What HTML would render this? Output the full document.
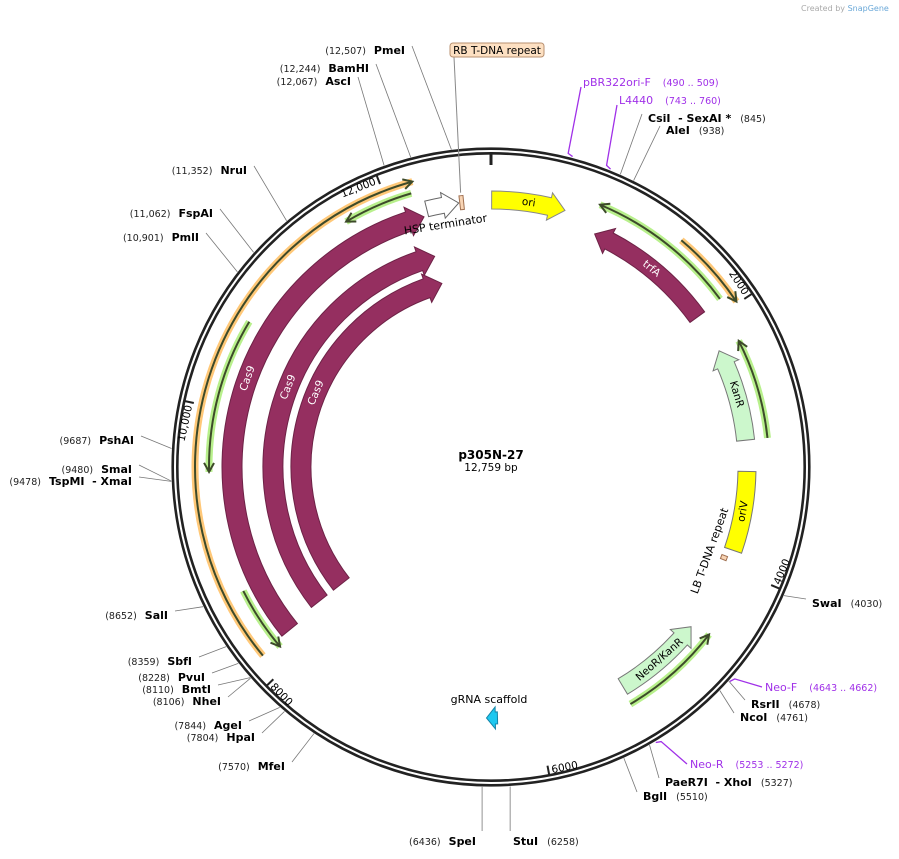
<!DOCTYPE html>
<html><head><meta charset="utf-8"><style>
html,body{margin:0;padding:0;background:#fff;}
svg{display:block;font-family:"DejaVu Sans","Liberation Sans",sans-serif;}
</style></head><body>
<svg id="map" width="899" height="859" viewBox="0 0 899 859" xmlns="http://www.w3.org/2000/svg">
<text x="801" y="11" font-size="8" fill="#aaa">Created by <tspan fill="#6aa8d8">SnapGene</tspan></text>
<g id="backbone"></g>
<g id="feats"></g>
<g id="enz"></g>
<text x="491" y="459" text-anchor="middle" font-size="12" font-weight="bold">p305N-27</text>
<text x="491" y="471" text-anchor="middle" font-size="10.5">12,759 bp</text>
</svg>
<script>
const TOTAL = 12759;
const CX = 491, CY = 467, R = 316;
// thick features
const featNames = ["ori","trfA","KanR","oriV","NeoR/KanR","gRNA scaffold","Cas9","Cas9","Cas9","HSP terminator","RB T-DNA repeat","LB T-DNA repeat"];
const featStart = [5, 850, 2233, 3225, 4558, 6327, 8188, 8222, 8222, 12263, 12520, 3925];
const featEnd   = [570, 1914, 2977, 3863, 5281, 6416, 12228, 12228, 12228, 12512, 12550, 3960];
const featDir   = [1, -1, -1, 0, -1, 1, 1, 1, 1, 1, 0, 0];
// thin primer-like features
const thinStart = [800, 1418, 2233, 4520, 11676, 9534, 8137, 8166];
const thinEnd   = [1904, 1985, 2977, 5300, 12183, 10668, 8627, 12213];
const thinDir   = [-1, 1, -1, -1, -1, -1, -1, 1];
// tick labels
const tickPos = [2000, 4000, 6000, 8000, 10000, 12000];
const tickLabels = ["2000","4000","6000","8000","10,000","12,000"];
// enzymes
const enzNames = ["PmeI","BamHI","AscI","NruI","FspAI","PmlI","PshAI","SmaI","TspMI  - XmaI","SalI","SbfI","PvuI","BmtI","NheI","AgeI","HpaI","MfeI","SpeI","StuI","BglI","PaeR7I  - XhoI","NcoI","RsrII","SwaI","CsiI  - SexAI *","AleI"];
const enzPos = [12507,12244,12067,11352,11062,10901,9687,9480,9478,8652,8359,8228,8110,8106,7844,7804,7570,6436,6258,5510,5327,4761,4678,4030,845,938];
const enzLabels = ["(12,507)","(12,244)","(12,067)","(11,352)","(11,062)","(10,901)","(9687)","(9480)","(9478)","(8652)","(8359)","(8228)","(8110)","(8106)","(7844)","(7804)","(7570)","(6436)","(6258)","(5510)","(5327)","(4761)","(4678)","(4030)","(845)","(938)"];
// primers
const primerNames = ["pBR322ori-F","L4440","Neo-F","Neo-R"];
const primerStart = [490, 743, 4643, 5253];
const primerLabels = ["(490 .. 509)","(743 .. 760)","(4643 .. 4662)","(5253 .. 5272)"];

// layout (not data)
const featR = [267,255,256,256,256,251,259,218,190,266,266,250];
const featW = [18,18,18,18,18,12,20,20,20,16,14,6];
const featFill = ["#ffff00","#952f60","#ccf7cc","#ffff00","#ccf7cc","#1ec8f0","#952f60","#952f60","#952f60","#ffffff","#f8d4b4","#f8d4b4"];
const featStroke = ["#888","#6d2246","#777","#777","#777","#1585a8","#6d2246","#6d2246","#6d2246","#666","#a07050","#a07050"];
const featText = ["#000","#fff","#000","#000","#000","#000","#fff","#fff","#fff","#000","#000","#000"];
const thinR = [284,296,278,275,285,282,277,296];
const thinHalo = ["#b8f08c","#ffc878","#b8f08c","#b8f08c","#b8f08c","#b8f08c","#b8f08c","#ffc878"];
const enzAnchor = [[405,50,-1],[369,68,-1],[351,81,-1],[247,170,-1],[213,213,-1],[199,237,-1],[134,440,-1],[132,469,-1],[132,481,-1],[168,615,-1],[192,661,-1],[205,677,-1],[211,689,-1],[221,701,-1],[242,725,-1],[255,737,-1],[285,766,-1],[476,841,-1],[513,841,1],[643,796,1],[665,782,1],[740,717,1],[751,704,1],[812,603,1],[648,118,1],[666,130,1]];
const primerAnchor = [[583,82],[619,100],[765,687],[690,764]];

const NS = "http://www.w3.org/2000/svg";
function ang(bp){ return bp / TOTAL * 360; }
function pt(a, r){ const t = a * Math.PI / 180; return [CX + r * Math.sin(t), CY - r * Math.cos(t)]; }
function arcD(r, a0, a1){
  const p0 = pt(a0, r), p1 = pt(a1, r);
  const large = Math.abs(a1 - a0) > 180 ? 1 : 0, sweep = a1 > a0 ? 1 : 0;
  return `M${p0[0].toFixed(2)},${p0[1].toFixed(2)} A${r},${r} 0 ${large} ${sweep} ${p1[0].toFixed(2)},${p1[1].toFixed(2)}`;
}
function arcTo(r, a0, a1){
  const p1 = pt(a1, r);
  const large = Math.abs(a1 - a0) > 180 ? 1 : 0, sweep = a1 > a0 ? 1 : 0;
  return ` A${r},${r} 0 ${large} ${sweep} ${p1[0].toFixed(2)},${p1[1].toFixed(2)}`;
}
function mk(tag, attrs, parent){ const e = document.createElementNS(NS, tag); for (const k in attrs) e.setAttribute(k, attrs[k]); parent.appendChild(e); return e; }
function L(p){ return `L${p[0].toFixed(2)},${p[1].toFixed(2)}`; }

const bb = document.getElementById('backbone');
let c1 = mk('circle', {cx:CX, cy:CY, r:R+2.3, fill:'none', stroke:'#222', 'stroke-width':2.6}, bb);


let c2 = mk('circle', {cx:CX, cy:CY, r:R-2.3, fill:'none', stroke:'#222', 'stroke-width':2.6}, bb);


let t0 = mk('line', {x1:CX, y1:CY-R+3, x2:CX, y2:CY-R+14, stroke:'#222', 'stroke-width':3}, bb);



tickPos.forEach((bp, i) => {
  const a = ang(bp);
  const p0 = pt(a, R - 3), p1 = pt(a, R - 12);
  const tk = mk('line', {x1:p0[0], y1:p0[1], x2:p1[0], y2:p1[1], stroke:'#222', 'stroke-width':2}, bb);
  
  
  const flip = a > 90 && a < 270;
  const rot = flip ? a - 180 : a;
  const pp = pt(a - 0.6, R - 11);
  const tx = mk('text', {x:pp[0], y:pp[1], 'font-size':10.5, 'text-anchor': flip ? 'start' : 'end', 'dominant-baseline': flip ? 'hanging' : 'auto', transform:`rotate(${rot} ${pp[0]} ${pp[1]})`}, bb);
  tx.textContent = tickLabels[i];
  
  
});

const fg = document.getElementById('feats');
// thin features
thinStart.forEach((s, i) => {
  const a0 = ang(s), a1 = ang(thinEnd[i]), r = thinR[i];
  const g = mk('g', {}, fg);
  
  
  mk('path', {d:arcD(r, a0, a1), fill:'none', stroke:thinHalo[i], 'stroke-width':7}, g);
  mk('path', {d:arcD(r, a0, a1), fill:'none', stroke:'#3d4a2a', 'stroke-width':2}, g);
  const tipA = thinDir[i] > 0 ? a1 : a0;
  const back = thinDir[i] > 0 ? -1 : 1;
  const da = back * 9 / r * 180 / Math.PI;
  const tip = pt(tipA, r), h1 = pt(tipA + da, r + 5), h2 = pt(tipA + da, r - 5);
  mk('path', {d:`M${h1[0]},${h1[1]} L${tip[0]},${tip[1]} L${h2[0]},${h2[1]}`, fill:'none', stroke:'#3d4a2a', 'stroke-width':2}, g);
});
// thick features
featNames.forEach((n, i) => {
  const a0 = ang(featStart[i]), a1 = ang(featEnd[i]), r = featR[i], w = featW[i] / 2;
  let d;
  if (featDir[i] === 0) {
    d = arcD(r + w, a0, a1) + L(pt(a1, r - w)) + arcTo(r - w, a1, a0) + 'Z';
  } else {
    const hl = Math.min(16, (a1 - a0) * Math.PI / 180 * r * 0.8) / r * 180 / Math.PI;
    const hw = w + 5;
    if (featDir[i] > 0) {
      const ab = a1 - hl;
      d = arcD(r + w, a0, ab) + L(pt(ab, r + hw)) + L(pt(a1, r)) + L(pt(ab, r - hw)) + L(pt(ab, r - w)) + arcTo(r - w, ab, a0) + 'Z';
    } else {
      const ab = a0 + hl;
      d = arcD(r + w, a1, ab) + L(pt(ab, r + hw)) + L(pt(a0, r)) + L(pt(ab, r - hw)) + L(pt(ab, r - w)) + arcTo(r - w, ab, a1) + 'Z';
    }
  }
  const p = mk('path', {d:d, fill:featFill[i], stroke:featStroke[i], 'stroke-width':1}, fg);
  
  
  if (i <= 8 && i !== 5) {
    let am = (a0 + a1) / 2;
    if (i >= 6) am = 290 + (i - 6) * 1.5;
    const flip = am > 90 && am < 270;
    const rot = flip ? am - 180 : am;
    const pp = pt(am, r);
    const t = mk('text', {x:pp[0], y:pp[1], 'font-size':10.5, fill:featText[i], 'text-anchor':'middle', 'dominant-baseline':'central', transform:`rotate(${rot} ${pp[0]} ${pp[1]})`}, fg);
    t.textContent = n;
    
    
  }
});
// other feature labels
let ht = mk('text', {x:446, y:228, 'font-size':11, 'text-anchor':'middle', transform:'rotate(-9 446 228)'}, fg);
ht.textContent = 'HSP terminator';


let gt = mk('text', {x:489, y:703, 'font-size':11, 'text-anchor':'middle'}, fg);
gt.textContent = 'gRNA scaffold';


let lt = mk('text', {x:713, y:552, 'font-size':11, 'text-anchor':'middle', transform:'rotate(-70 713 552)'}, fg);
lt.textContent = 'LB T-DNA repeat';


const rbp = pt(ang(12535), 276);
mk('line', {x1:454, y1:57, x2:rbp[0], y2:rbp[1], stroke:'#888', 'stroke-width':1}, fg);
let rbBox = mk('rect', {x:450, y:43, width:94, height:14, rx:3, fill:'#fde0c2', stroke:'#b89070', 'stroke-width':1}, fg);


let rbt = mk('text', {x:497, y:54, 'font-size':10.5, 'text-anchor':'middle'}, fg);
rbt.textContent = 'RB T-DNA repeat';



// enzymes
const eg = document.getElementById('enz');
enzNames.forEach((n, i) => {
  const a = ang(enzPos[i]);
  const [x, y, side] = enzAnchor[i];
  const p0 = pt(a, R + 4);
  let lx, ly;
  if (n === 'SpeI' || n === 'StuI') { lx = p0[0]; ly = y - 10; }
  else { lx = side < 0 ? x + 7 : x - 6; ly = y - 4; }
  mk('line', {x1:p0[0], y1:p0[1], x2:lx, y2:ly, stroke:'#777', 'stroke-width':0.8}, eg);
  const t = mk('text', {x:x, y:y + 4, 'text-anchor': side < 0 ? 'end' : 'start', 'font-size':11}, eg);
  
  
  if (side < 0) {
    t.innerHTML = `<tspan font-size="9.5" fill="#222">${enzLabels[i]}</tspan><tspan font-weight="bold" dx="8">${n.replace(/  /g, '\u00a0\u00a0')}</tspan>`;
  } else {
    t.innerHTML = `<tspan font-weight="bold">${n.replace(/  /g, '\u00a0\u00a0')}</tspan><tspan font-size="9.5" fill="#222" dx="9">${enzLabels[i]}</tspan>`;
  }
});
// primers
primerNames.forEach((n, i) => {
  const a = ang(primerStart[i]);
  const [x, y] = primerAnchor[i];
  const p0 = pt(a, R + 7), p1 = pt(a + 0.9, R + 5);
  const top = y < 400;
  const lx = top ? x - 2 : x - 3, ly = top ? y + 5 : y;
  mk('path', {d:`M${lx},${ly} L${p0[0]},${p0[1]} L${p1[0]},${p1[1]}`, fill:'none', stroke:'#a030e8', 'stroke-width':1.3}, eg);
  const t = mk('text', {x:x, y:y + 4, 'font-size':11, fill:'#a030e8'}, eg);
  
  
  t.innerHTML = `${n}<tspan font-size="9.5" dx="12">${primerLabels[i]}</tspan>`;
});
</script>
</body></html>
